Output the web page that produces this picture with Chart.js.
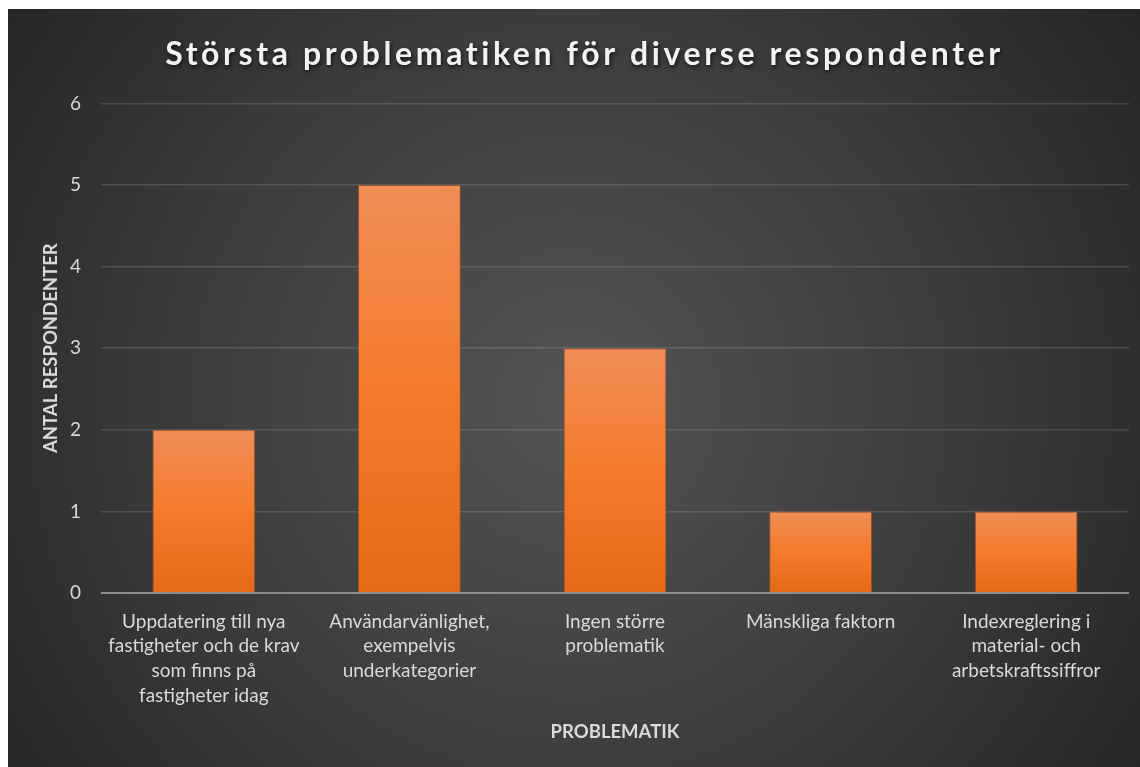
<!DOCTYPE html>
<html>
<head>
<meta charset="utf-8">
<script src="https://cdn.jsdelivr.net/npm/chart.js@4/dist/chart.umd.min.js"></script>
<style>
  html, body { margin: 0; padding: 0; background: #ffffff; }
  #wrap { width: 1140px; height: 767px; position: relative; }
</style>
</head>
<body>
<div id="wrap"><canvas id="c" width="1140" height="767"></canvas></div>
<script>
const categories = [
  ["Uppdatering till nya", "fastigheter och de krav", "som finns på", "fastigheter idag"],
  ["Användarvänlighet,", "exempelvis", "underkategorier"],
  ["Ingen större", "problematik"],
  ["Mänskliga faktorn"],
  ["Indexreglering i", "material- och", "arbetskraftssiffror"]
];
const respondents = [2, 5, 3, 1, 1];
const yTicks = [0, 1, 2, 3, 4, 5, 6];
const chartTitle = "Största problematiken för diverse respondenter";
const xTitle = "PROBLEMATIK";
const yTitle = "ANTAL RESPONDENTER";

const bgPlugin = {
  id: 'bg',
  beforeDraw(chart) {
    const ctx = chart.ctx;
    ctx.save();
    ctx.fillStyle = '#ffffff';
    ctx.fillRect(0, 0, chart.width, chart.height);
    const g = ctx.createRadialGradient(570, 400, 0, 570, 400, 700);
    g.addColorStop(0, '#545454');
    g.addColorStop(0.55, '#3c3c3c');
    g.addColorStop(1, '#252525');
    ctx.fillStyle = g;
    ctx.fillRect(8, 9, chart.width - 8, chart.height - 9);
    ctx.restore();
  }
};

function barGradient(context) {
  const chart = context.chart;
  const ys = chart.scales.y;
  if (!ys || context.raw === undefined) return '#f47b2b';
  const top = ys.getPixelForValue(context.raw);
  const base = ys.getPixelForValue(0);
  if (!isFinite(top) || !isFinite(base) || top === base) return '#f47b2b';
  const g = chart.ctx.createLinearGradient(0, top, 0, base);
  g.addColorStop(0, '#f08d56');
  g.addColorStop(0.5, '#f47b2b');
  g.addColorStop(1, '#e46a17');
  return g;
}

const titleStylePlugin = {
  id: 'titleStyle',
  afterInit(chart) {
    const tb = chart.titleBlock;
    if (!tb) return;
    const orig = tb.draw.bind(tb);
    tb.draw = function () {
      const ctx = chart.ctx;
      ctx.save();
      ctx.letterSpacing = '3.6px';
      ctx.shadowColor = 'rgba(0,0,0,0.7)';
      ctx.shadowBlur = 4;
      ctx.shadowOffsetX = 1;
      ctx.shadowOffsetY = 2;
      orig();
      ctx.restore();
    };
  }
};

new Chart(document.getElementById('c'), {
  type: 'bar',
  data: {
    labels: categories,
    datasets: [{
      data: respondents,
      backgroundColor: barGradient,
      borderColor: 'rgba(190,85,25,0.7)',
      borderWidth: 1,
      categoryPercentage: 0.5,
      barPercentage: 1.0
    }]
  },
  plugins: [bgPlugin, titleStylePlugin],
  options: {
    responsive: false,
    animation: false,
    devicePixelRatio: 1,
    layout: { padding: { left: 40, right: 11, top: 9, bottom: 24 } },
    plugins: {
      legend: { display: false },
      tooltip: { enabled: false },
      title: {
        display: true,
        text: chartTitle,
        color: '#f2f2f2',
        font: { family: 'Lato', size: 32, weight: 'bold' },
        padding: { top: 26, bottom: 30 }
      }
    },
    scales: {
      x: {
        grid: { display: false },
        border: { display: false },
        ticks: {
          color: '#d9d9d9',
          font: { family: 'Lato', size: 19, lineHeight: 1.31 },
          padding: 8,
          maxRotation: 0,
          autoSkip: false
        },
        title: {
          display: true,
          text: xTitle,
          color: '#d9d9d9',
          font: { family: 'Lato', size: 18.5, weight: 'bold' },
          padding: { top: 0, bottom: 0 }
        },
        afterFit(scale) { scale.height = 150; }
      },
      y: {
        min: 0,
        max: 6,
        afterBuildTicks(scale) { scale.ticks = yTicks.map(v => ({ value: v })); },
        grid: {
          color: ctx => ctx.tick && ctx.tick.value === 0 ? '#8c8c8c' : 'rgba(255,255,255,0.13)',
          lineWidth: ctx => ctx.tick && ctx.tick.value === 0 ? 2 : 1.5,
          drawTicks: false
        },
        border: { display: false },
        ticks: {
          color: '#d9d9d9',
          font: { family: 'Lato', size: 19 },
          padding: 20
        },
        title: {
          display: true,
          text: yTitle,
          color: '#d9d9d9',
          font: { family: 'Lato', size: 18.5, weight: 'bold' },
          padding: { top: 0, bottom: 0 }
        },
        afterFit(scale) { scale.width = 61; }
      }
    }
  }
});
</script>
</body>
</html>
